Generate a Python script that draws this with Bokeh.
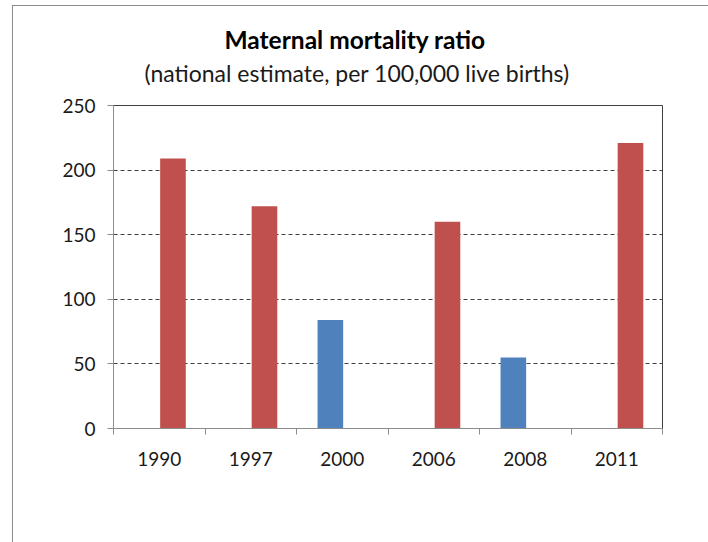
from bokeh.plotting import figure
from bokeh.models import (Range1d, FixedTicker, Title, Legend, LegendItem, ColumnDataSource)
from bokeh.transform import dodge
from bokeh.embed import file_html
from bokeh.resources import INLINE

nan = float("nan")
years = ["1990", "1997", "2000", "2006", "2008", "2011"]
egypt = [nan, nan, 84, nan, 55, nan]
philippines = [209, 172, nan, 160, nan, 221]
series_names = ["Egypt, Arab Rep.", "Philippines"]
y_ticks = [0, 50, 100, 150, 200, 250]
title_text = "Maternal mortality ratio"
subtitle_text = "(national estimate, per 100,000 live births)"

colors = ["#4F81BD", "#C0504D"]
FONT = "Lato"

# page placement of the chart box and the plot frame
OX, OY = 13, 6
W, H = 695, 536
F_L, F_R, F_T, F_B = 113, 662, 105, 428

centres = [i + 0.5 for i in range(len(years))]
bounds = list(range(len(years) + 1))
src = ColumnDataSource(dict(x=centres, year=years, egypt=egypt, philippines=philippines))

p = figure(x_range=Range1d(0, len(years)), y_range=Range1d(y_ticks[0], y_ticks[-1]),
           width=W, height=H,
           frame_width=F_R - F_L, frame_height=F_B - F_T,
           output_backend="svg", toolbar_location=None,
           margin=(OY - 1, 0, 0, OX - 1),
           min_border_left=F_L - OX, min_border_right=OX + W - F_R,
           min_border_top=F_T - OY, min_border_bottom=OY + H - F_B)
p.styles = {"border-left": "1px solid #8c8c8c", "border-top": "1px solid #8c8c8c"}

bw = 0.28
r1 = p.vbar(x=dodge("x", -bw / 2 + 0.01), top="egypt", bottom=0, width=bw,
            source=src, fill_color=colors[0], line_color=None)
r2 = p.vbar(x=dodge("x", bw / 2 + 0.01), top="philippines", bottom=0, width=bw,
            source=src, fill_color=colors[1], line_color=None)

p.outline_line_color = "#404040"
p.outline_line_width = 1
p.background_fill_color = "white"
p.border_fill_color = "white"

TICK_FS = "19px"

xax = p.xaxis[0]
xax.ticker = FixedTicker(ticks=centres, minor_ticks=bounds)
xax.major_label_overrides = {c: y for c, y in zip(centres, years)}
xax.axis_line_color = "#8c8c8c"
xax.major_tick_line_color = None
xax.major_tick_in = 0
xax.major_tick_out = 0
xax.minor_tick_line_color = "#8c8c8c"
xax.minor_tick_in = 0
xax.minor_tick_out = 6
xax.major_label_standoff = 17
xax.major_label_text_font = FONT
xax.major_label_text_font_size = TICK_FS
xax.major_label_text_color = "#1a1a1a"

yax = p.yaxis[0]
yax.ticker = FixedTicker(ticks=y_ticks)
yax.axis_line_color = "#8c8c8c"
yax.major_tick_line_color = "#8c8c8c"
yax.major_tick_in = 0
yax.major_tick_out = 6
yax.minor_tick_line_color = None
yax.major_label_standoff = 12
yax.major_label_text_font = FONT
yax.major_label_text_font_size = TICK_FS
yax.major_label_text_color = "#1a1a1a"

p.xgrid.visible = False
p.ygrid.grid_line_color = "#404040"
p.ygrid.grid_line_dash = "4 3"
p.ygrid.grid_line_width = 1

# titles stacked above the frame: spacer, subtitle, main title
p.add_layout(Title(text=" ", text_font_size="1px", standoff=15), "above")
p.add_layout(Title(text=subtitle_text, align="left", offset=31, text_font=FONT,
                   text_font_size="23px", text_font_style="normal", text_color="#1a1a1a",
                   vertical_align="bottom", standoff=2), "above")
p.add_layout(Title(text=title_text, align="left", offset=111, text_font=FONT,
                   text_font_size="24.5px", text_font_style="bold", text_color="#000000",
                   vertical_align="bottom", standoff=4), "above")

legend = Legend(items=[LegendItem(label=series_names[0], renderers=[r1]),
                       LegendItem(label=series_names[1], renderers=[r2])],
                location="center", orientation="horizontal", spacing=156,
                label_width=131,
                glyph_width=11, glyph_height=11, label_standoff=5, padding=0, margin=0,
                border_line_color=None, background_fill_alpha=0,
                label_text_font=FONT, label_text_font_size=TICK_FS,
                label_text_color="#1a1a1a")
p.add_layout(legend, "below")

open("out.html", "w").write(file_html(p, INLINE))
